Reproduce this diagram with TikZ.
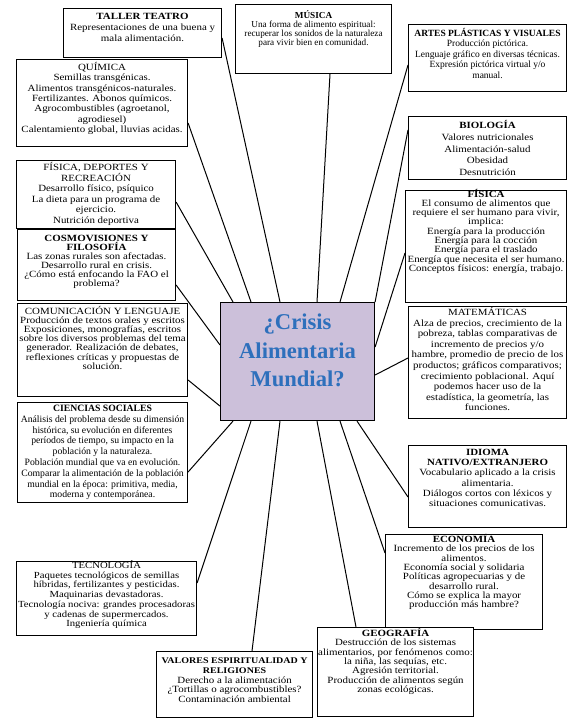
\documentclass[tikz,border=0pt]{standalone}
\usepackage{fontspec}
\setmainfont{Liberation Serif}[FakeStretch=1.15]
\newfontfamily\recto{Liberation Serif}
\usetikzlibrary{positioning}
\definecolor{lila}{RGB}{204,192,218}
\definecolor{azul}{RGB}{46,112,188}
\newcommand{\tope}[1][9pt]{\rule{0pt}{#1}}

\begin{document}
\begin{tikzpicture}[x=1pt,y=-1pt,
  area/.style={draw, line width=1.1pt, fill=white, inner sep=0pt, anchor=north west},
  txt/.style={align=center, inner sep=0pt, font=\fontsize{9.5}{#1}\selectfont},
  txt/.default=10,
  txtr/.style={align=center, inner sep=0pt, font=\recto\fontsize{9.5}{#1}\selectfont},
  txtr/.default=10,
  link/.style={line width=1pt}]
\useasboundingbox (0,0) rectangle (579,718);

\node[area, fill=lila, minimum width=154pt, minimum height=118pt] (crisis) at (220,302) {};
\node[align=center, inner sep=0pt, text=azul, below=7.5pt of crisis.north,
  font=\recto\bfseries\fontsize{22.6}{28.5}\selectfont] {\tope[20pt]¿Crisis\\Alimentaria\\Mundial?};

\node[area, minimum width=158pt, minimum height=49pt] (taller) at (63,8) {};
\node[txt=11, below=2pt of taller.north] {\tope\textbf{TALLER TEATRO}\\Representaciones de una buena y\\mala alimentación.};

\node[area, minimum width=156pt, minimum height=69pt] (musica) at (235,4) {};
\node[txtr, font=\recto\fontsize{9.2}{9}\selectfont, below=5pt of musica.north] {\tope\textbf{MÚSICA}\\Una forma de alimento espiritual:\\recuperar los sonidos de la naturaleza\\para vivir bien en comunidad.};

\node[area, minimum width=158pt, minimum height=67pt] (artes) at (408,24) {};
\node[txtr=10.5, below=3pt of artes.north] {\tope\textbf{ARTES PLÁSTICAS Y VISUALES}\\Producción pictórica.\\Lenguaje gráfico en diversas técnicas.\\Expresión pictórica virtual y/o\\manual.};

\node[area, minimum width=158pt, minimum height=63pt] (biologia) at (408,116) {};
\node[txt=11.8, below=3.3pt of biologia.north] {\tope\textbf{BIOLOGÍA}\\Valores nutricionales\\Alimentación-salud\\Obesidad\\Desnutrición};

\node[area, minimum width=161pt, minimum height=112pt] (fisica) at (405,190) {};
\node[txt=9.3, below=-2.2pt of fisica.north] {\tope\textbf{FÍSICA}\\El consumo de alimentos que\\requiere el ser humano para vivir,\\implica:\\Energía para la producción\\Energía para la cocción\\Energía para el traslado\\Energía que necesita el ser humano.\\Conceptos físicos: energía, trabajo.};

\node[area, minimum width=158pt, minimum height=112pt] (mate) at (408,306) {};
\node[txt=10.6, below=0.3pt of mate.north] {\tope MATEMÁTICAS\\Alza de precios, crecimiento de la\\pobreza, tablas comparativas de\\incremento de precios y/o\\hambre, promedio de precio de los\\productos; gráficos comparativos;\\crecimiento poblacional. Aquí\\podemos hacer uso de la\\estadística, la geometría, las\\funciones.};

\node[area, minimum width=158pt, minimum height=82pt] (idioma) at (408,445) {};
\node[txt=10.2, below=1.3pt of idioma.north] {\tope\textbf{IDIOMA}\\\textbf{NATIVO/EXTRANJERO}\\Vocabulario aplicado a la crisis\\alimentaria.\\Diálogos cortos con léxicos y\\situaciones comunicativas.};

\node[area, minimum width=157pt, minimum height=95pt] (economia) at (385,534) {};
\node[txt=9.3, below=-0.7pt of economia.north] {\tope\textbf{ECONOMÍA}\\Incremento de los precios de los\\alimentos.\\Economía social y solidaria\\Políticas agropecuarias y de\\desarrollo rural.\\Cómo se explica la mayor\\producción más hambre?};

\node[area, minimum width=156pt, minimum height=89pt] (geografia) at (317,627) {};
\node[txt=9.3, below=0.3pt of geografia.north] {\tope\textbf{GEOGRAFÍA}\\Destrucción de los sistemas\\alimentarios, por fenómenos como:\\la niña, las sequías, etc.\\Agresión territorial.\\Producción de alimentos según\\zonas ecológicas.};

\node[area, minimum width=156pt, minimum height=66pt] (valores) at (156,651) {};
\node[txt=9.8, below=3.3pt of valores.north] {\tope{\fontsize{8.7}{9.8}\selectfont\textbf{VALORES ESPIRITUALIDAD Y}}\\{\fontsize{8.7}{9.8}\selectfont\textbf{RELIGIONES}}\\Derecho a la alimentación\\¿Tortillas o agrocombustibles?\\Contaminación ambiental};

\node[area, minimum width=180pt, minimum height=74pt] (tecno) at (16,561) {};
\node[txt, font=\fontsize{9.3}{9.7}\selectfont, below=-1.7pt of tecno.north] {\tope TECNOLOGÍA\\Paquetes tecnológicos de semillas\\híbridas, fertilizantes y pesticidas.\\Maquinarias devastadoras.\\Tecnología nociva: grandes procesadoras\\y cadenas de supermercados.\\Ingeniería química};

\node[area, minimum width=170pt, minimum height=100pt] (sociales) at (17,402) {};
\node[txtr, font=\recto\fontsize{9.7}{10.8}\selectfont, below=0.3pt of sociales.north] {\tope\textbf{CIENCIAS SOCIALES}\\Análisis del problema desde su dimensión\\histórica, su evolución en diferentes\\períodos de tiempo, su impacto en la\\población y la naturaleza.\\Población mundial que va en evolución.\\Comparar la alimentación de la población\\mundial en la época: primitiva, media,\\moderna y contemporánea.};

\node[area, minimum width=170pt, minimum height=93pt] (comunic) at (17,303) {};
\node[txt=9.1, below=2.3pt of comunic.north] {\tope COMUNICACIÓN Y LENGUAJE\\Producción de textos orales y escritos\\Exposiciones, monografías, escritos\\sobre los diversos problemas del tema\\generador. Realización de debates,\\reflexiones críticas y propuestas de\\solución.};

\node[area, minimum width=158pt, minimum height=71pt] (cosmo) at (17,229) {};
\node[txt=9, below=3.3pt of cosmo.north] {\tope\textbf{COSMOVISIONES Y}\\\textbf{FILOSOFÍA}\\Las zonas rurales son afectadas.\\Desarrollo rural en crisis.\\¿Cómo está enfocando la FAO el\\problema?};

\node[area, minimum width=159pt, minimum height=68pt] (fisdep) at (16,160) {};
\node[txt=10.6, below=1.3pt of fisdep.north] {\tope FÍSICA, DEPORTES Y\\RECREACIÓN\\Desarrollo físico, psíquico\\La dieta para un programa de\\ejercicio.\\Nutrición deportiva};

\node[area, minimum width=171pt, minimum height=87pt] (quimica) at (16,59) {};
\node[txt=10.3, below=2.3pt of quimica.north] {\tope QUÍMICA\\Semillas transgénicas.\\Alimentos transgénicos-naturales.\\Fertilizantes. Abonos químicos.\\Agrocombustibles (agroetanol,\\agrodiesel)\\Calentamiento global, lluvias acidas.};

\draw[link] ([yshift=-42pt]fisdep.north east) -- ([xshift=13pt]crisis.north west);
\draw[link] ([yshift=-64pt]quimica.north east) -- ([xshift=31pt]crisis.north west);
\draw[link] ([yshift=-30pt]taller.north east) -- ([xshift=60pt]crisis.north west);
\draw[link] ([xshift=95pt]musica.south west) -- ([xshift=97pt]crisis.north west);
\draw[link] ([yshift=-41pt]artes.north west) -- ([xshift=120pt]crisis.north west);
\draw[link] ([yshift=-14pt]biologia.north west) -- (crisis.north east);
\draw[link] ([yshift=-63pt]fisica.north west) -- ([yshift=-45pt]crisis.north east);
\draw[link] ([yshift=-52pt]mate.north west) -- ([yshift=-73pt]crisis.north east);
\draw[link] ([yshift=-52pt]idioma.north west) -- ([xshift=137pt]crisis.south west);
\draw[link] ([yshift=-19pt]economia.north west) -- ([xshift=120pt]crisis.south west);
\draw[link] ([xshift=39pt]geografia.north west) -- ([xshift=97pt]crisis.south west);
\draw[link] ([xshift=96pt]valores.north west) -- ([xshift=60pt]crisis.south west);
\draw[link] ([yshift=-22pt]tecno.north east) -- ([xshift=31pt]crisis.south west);
\draw[link] ([yshift=-70pt]sociales.north east) -- ([xshift=13pt]crisis.south west);
\draw[link] ([yshift=-77pt]comunic.north east) -- ([yshift=15pt]crisis.south west);
\draw[link] ([yshift=-56pt]cosmo.north east) -- ([yshift=-43pt]crisis.north west);
\end{tikzpicture}
\end{document}
